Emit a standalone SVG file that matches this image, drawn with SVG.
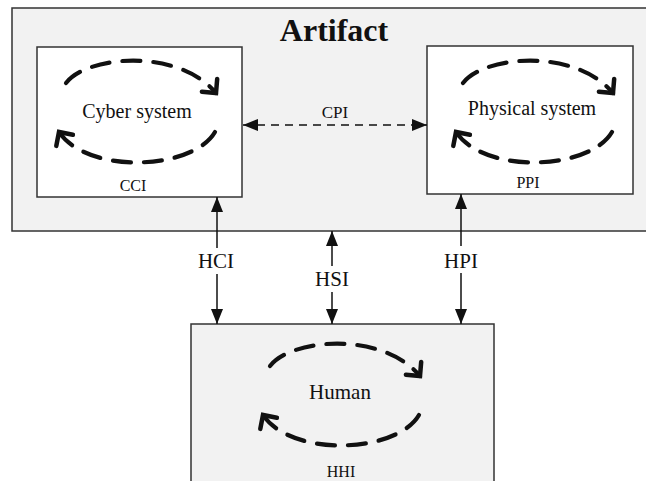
<svg xmlns="http://www.w3.org/2000/svg" xmlns:xlink="http://www.w3.org/1999/xlink" width="646" height="481" viewBox="0 0 646 481">
<style>
.box{stroke:#333;stroke-width:1.5}
.gray{fill:#f2f2f2}
.white{fill:#fff}
.t{font-family:"Liberation Serif","Times New Roman",serif;fill:#111;text-anchor:middle}
.cyc{fill:none;stroke:#111;stroke-width:4.2;stroke-linecap:round;stroke-dasharray:18 13}
.con{stroke:#111;stroke-width:1.5;fill:none}
.dash{stroke-dasharray:8 6}
</style>
<defs>
<marker id="chev" markerUnits="userSpaceOnUse" viewBox="-14 -14 20 28" markerWidth="20" markerHeight="28" refX="0" refY="0" orient="auto">
<path d="M-10,-10 L0,0 L-10,10" fill="none" stroke="#111" stroke-width="4.5" stroke-linecap="round" stroke-linejoin="miter"/>
</marker>
<marker id="ah" markerUnits="userSpaceOnUse" viewBox="0 0 15 12" markerWidth="15" markerHeight="12" refX="15" refY="6" orient="auto-start-reverse">
<path d="M0,0 L15,6 L0,12 Z" fill="#111"/>
</marker>
<g id="cycle">
<path class="cyc" d="M-72,-27 C-50,-55 40,-62 78,-17" marker-end="url(#chev)"/>
<path class="cyc" d="M77,22 C55,60 -50,65 -79,22" marker-end="url(#chev)"/>
</g>
</defs>
<g id="artifact">
<rect class="box gray" x="12" y="8" width="700" height="223"/>
<text class="t" x="334" y="41" font-size="32" font-weight="bold">Artifact</text>
</g>
<g id="cyber">
<rect class="box white" x="37" y="47" width="205" height="150"/>
<use xlink:href="#cycle" transform="translate(138,110)"/>
<text class="t" x="137" y="118" font-size="20">Cyber system</text>
<text class="t" x="133" y="191" font-size="16">CCI</text>
</g>
<g id="physical">
<rect class="box white" x="427" y="46" width="206" height="148"/>
<use xlink:href="#cycle" transform="translate(535,110)"/>
<text class="t" x="532" y="115" font-size="20">Physical system</text>
<text class="t" x="528" y="188" font-size="16">PPI</text>
</g>
<g id="human">
<rect class="box gray" x="191" y="324" width="303" height="200"/>
<use xlink:href="#cycle" transform="translate(342,393)"/>
<text class="t" x="340" y="399" font-size="21">Human</text>
<text class="t" x="341" y="477" font-size="16">HHI</text>
</g>
<g id="connectors">
<line class="con dash" x1="243" y1="125" x2="427" y2="125" marker-start="url(#ah)" marker-end="url(#ah)"/>
<text class="t" x="335" y="118" font-size="17">CPI</text>
<line class="con" x1="217" y1="197" x2="217" y2="324" marker-start="url(#ah)" marker-end="url(#ah)"/>
<rect x="196" y="248" width="42" height="26" fill="#fff"/>
<text class="t" x="216" y="268" font-size="21">HCI</text>
<line class="con" x1="332" y1="231" x2="332" y2="324" marker-start="url(#ah)" marker-end="url(#ah)"/>
<rect x="312" y="266" width="42" height="26" fill="#fff"/>
<text class="t" x="332" y="286" font-size="21">HSI</text>
<line class="con" x1="461" y1="194" x2="461" y2="324" marker-start="url(#ah)" marker-end="url(#ah)"/>
<rect x="441" y="246" width="42" height="27" fill="#fff"/>
<text class="t" x="461" y="268" font-size="21">HPI</text>
</g>
</svg>
